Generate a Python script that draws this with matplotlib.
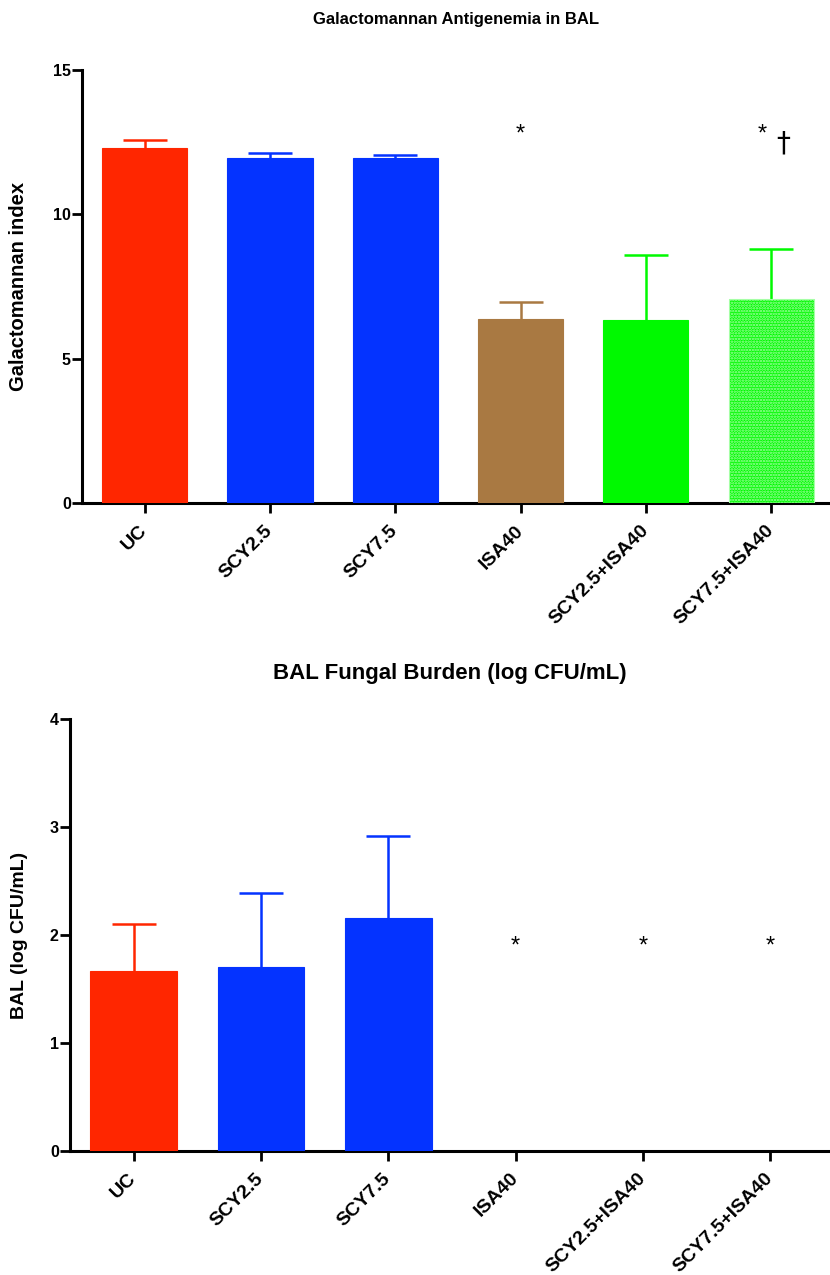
import matplotlib
matplotlib.use("Agg")
import matplotlib.pyplot as plt

# groups shared by both panels
groups = ["UC", "SCY2.5", "SCY7.5", "ISA40", "SCY2.5+ISA40", "SCY7.5+ISA40"]
bar_colors = ["#ff2600", "#0433ff", "#0433ff", "#a97942", "#00f900", "#00f900"]

# panel 1: galactomannan index in BAL
gm_mean = [12.3, 11.95, 11.95, 6.37, 6.34, 7.07]
gm_sem = [0.27, 0.17, 0.10, 0.59, 2.25, 1.73]

# panel 2: BAL fungal burden, log CFU/mL (ISA40 groups were zero)
cfu_mean = [1.67, 1.70, 2.16, 0.0, 0.0, 0.0]
cfu_sem = [0.43, 0.69, 0.76, 0.0, 0.0, 0.0]

plt.rcParams["font.family"] = ["Liberation Sans", "DejaVu Sans"]
plt.rcParams["font.weight"] = "bold"
plt.rcParams["hatch.linewidth"] = 1.2

fig = plt.figure(figsize=(8.3, 12.75), dpi=100)
ax1 = fig.add_axes([0.0988, 0.6055, 0.9012, 0.3396])
ax2 = fig.add_axes([0.0843, 0.0973, 0.9157, 0.3387])


def style_axis(ax, ymax, step):
    for side in ("top", "right"):
        ax.spines[side].set_visible(False)
    for side in ("left", "bottom"):
        ax.spines[side].set_linewidth(2.2)
    ax.set_ylim(0, ymax)
    ax.set_xlim(-0.5, 5.47)
    ax.set_yticks(range(0, ymax + 1, step))
    ax.tick_params(axis="both", width=2.0, length=7)
    ax.tick_params(axis="y", pad=1, labelsize=11.5)
    ax.tick_params(axis="x", pad=11)
    ax.set_xticks(range(len(groups)))
    ax.set_xticklabels(groups, rotation=45, ha="right", va="center",
                       rotation_mode="anchor", fontsize=14, fontweight="bold")


def draw_bars(ax, means, sems, capsize):
    for i in range(len(groups)):
        if means[i] <= 0:
            continue
        hatch = "......" if i == 5 else None
        edge = "#a6ffa6" if i == 5 else bar_colors[i]
        ax.bar(i, means[i], width=0.68, color=bar_colors[i], edgecolor=edge,
               hatch=hatch, linewidth=0.8, zorder=3)
        # symmetric bar, lower half hidden behind the column
        ax.errorbar(i, means[i], yerr=sems[i], fmt="none",
                    ecolor=bar_colors[i], elinewidth=1.8, capsize=capsize,
                    capthick=1.8, zorder=2)


# top panel
draw_bars(ax1, gm_mean, gm_sem, 15.5)
style_axis(ax1, 15, 5)
ax1.set_title("Galactomannan Antigenemia in BAL", fontsize=12,
              fontweight="bold", pad=33)
ax1.set_ylabel("Galactomannan index", fontsize=14.5, fontweight="bold")
ax1.yaxis.set_label_coords(-0.072, 0.5)
ax1.text(3, 12.75, "*", ha="center", va="center", fontsize=17,
         fontweight="normal")
ax1.text(4.93, 12.75, "*", ha="center", va="center", fontsize=17,
         fontweight="normal")
ax1.text(5.1, 12.45, "\u2020", ha="center", va="center", fontsize=20,
         fontweight="normal", family=["DejaVu Sans"])

# bottom panel
draw_bars(ax2, cfu_mean, cfu_sem, 15.5)
for i in range(len(groups)):
    if cfu_mean[i] <= 0:
        ax2.text(i, 1.89, "*", ha="center", va="center", fontsize=17,
                 fontweight="normal")
style_axis(ax2, 4, 1)
ax2.set_title("BAL Fungal Burden (log CFU/mL)", fontsize=16,
              fontweight="bold", pad=29)
ax2.set_ylabel("BAL (log CFU/mL)", fontsize=14, fontweight="bold")
ax2.yaxis.set_label_coords(-0.0555, 0.5)

fig.savefig("out.png", dpi=100)
